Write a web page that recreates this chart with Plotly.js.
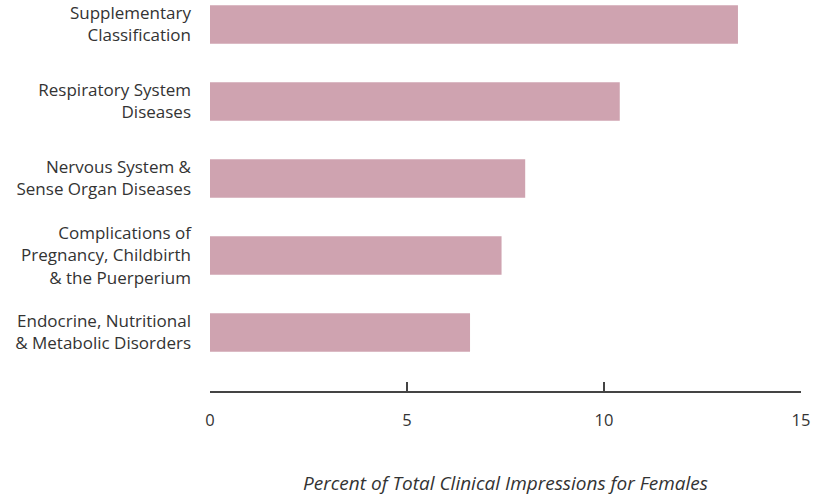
<!DOCTYPE html>
<html>
<head>
<meta charset="utf-8">
<script src="https://cdn.plot.ly/plotly-3.0.1.min.js"></script>
<style>html,body{margin:0;padding:0;background:#fff;}#chart{width:818px;height:497px;}</style>
</head>
<body>
<div id="chart"></div>
<script>
const categories = [
  "Supplementary<br>Classification",
  "Respiratory System<br>Diseases",
  "Nervous System &<br>Sense Organ Diseases",
  "Complications of<br>Pregnancy, Childbirth<br>& the Puerperium",
  "Endocrine, Nutritional<br>& Metabolic Disorders"
];
const values = [13.4, 10.4, 8.0, 7.4, 6.6];
const xTickVals = [0, 5, 10, 15];
const xTitle = "Percent of Total Clinical Impressions for Females";

const trace = {
  type: "bar",
  orientation: "h",
  y: categories,
  x: values,
  width: 0.5,
  marker: {color: "#cfa3b0"},
  hoverinfo: "x+y"
};

const layout = {
  width: 818,
  height: 497,
  margin: {l: 210, r: 17, t: 0, b: 106},
  paper_bgcolor: "#fff",
  plot_bgcolor: "#fff",
  showlegend: false,
  font: {family: "Open Sans, sans-serif", color: "#333"},
  xaxis: {
    range: [0, 15],
    tickvals: xTickVals,
    ticks: "inside",
    ticklen: 9,
    tickwidth: 1.5,
    tickcolor: "#444",
    showline: true,
    linecolor: "#444",
    linewidth: 1.5,
    showgrid: false,
    zeroline: false,
    tickfont: {size: 16.5, color: "#333"},
    ticklabelstandoff: 14,
    title: {text: xTitle, font: {size: 19, color: "#333", style: "italic"}, standoff: 46}
  },
  yaxis: {
    type: "category",
    categoryorder: "array",
    categoryarray: categories,
    range: [4.76, -0.318],
    showgrid: false,
    zeroline: false,
    showline: false,
    ticks: "",
    ticklabelstandoff: 18,
    tickfont: {size: 17, color: "#333"}
  }
};

Plotly.newPlot("chart", [trace], layout, {displayModeBar: false, staticPlot: true});
</script>
</body>
</html>
